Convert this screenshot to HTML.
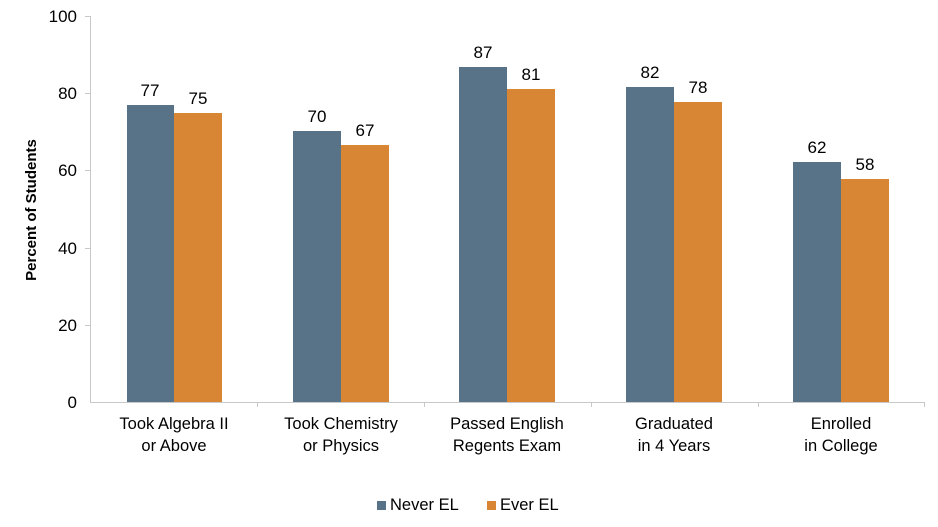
<!DOCTYPE html>
<html><head><style>body{margin:0;background:#fff}svg{display:block}</style></head><body>
<svg width="938" height="527" xmlns="http://www.w3.org/2000/svg" font-family="Liberation Sans, Arial, sans-serif">
<g stroke="#c8c8c8" stroke-width="1">
<line x1="90.5" y1="16" x2="90.5" y2="403"/>
<line x1="90" y1="402.5" x2="925" y2="402.5"/>
<line x1="85" y1="16.5" x2="90" y2="16.5"/><line x1="85" y1="93.5" x2="90" y2="93.5"/><line x1="85" y1="170.5" x2="90" y2="170.5"/><line x1="85" y1="248.5" x2="90" y2="248.5"/><line x1="85" y1="325.5" x2="90" y2="325.5"/>
<line x1="257.5" y1="402" x2="257.5" y2="407"/><line x1="424.5" y1="402" x2="424.5" y2="407"/><line x1="591.5" y1="402" x2="591.5" y2="407"/><line x1="758.5" y1="402" x2="758.5" y2="407"/><line x1="924.5" y1="402" x2="924.5" y2="407"/>
</g>
<g font-size="17" fill="#000" text-anchor="end">
<text x="77" y="22">100</text><text x="77" y="99">80</text><text x="77" y="176">60</text><text x="77" y="254">40</text><text x="77" y="331">20</text><text x="77" y="408">0</text>
</g>
<text transform="translate(36,210) rotate(-90)" text-anchor="middle" font-size="15" font-weight="bold">Percent of Students</text>
<g fill="#587387">
<rect x="127" y="105" width="47" height="297"/>
<rect x="293" y="131" width="48" height="271"/>
<rect x="459" y="67" width="48" height="335"/>
<rect x="626" y="87" width="48" height="315"/>
<rect x="793" y="162" width="48" height="240"/>
</g>
<g fill="#d98634">
<rect x="174" y="113" width="48" height="289"/>
<rect x="341" y="145" width="48" height="257"/>
<rect x="507" y="89" width="48" height="313"/>
<rect x="674" y="102" width="48" height="300"/>
<rect x="841" y="179" width="48" height="223"/>
</g>
<g font-size="17" text-anchor="middle">
<text x="150" y="96">77</text><text x="198" y="104">75</text>
<text x="317" y="122">70</text><text x="365" y="136">67</text>
<text x="483" y="58">87</text><text x="531" y="80">81</text>
<text x="650" y="78">82</text><text x="698" y="93">78</text>
<text x="817" y="153">62</text><text x="865" y="170">58</text>
</g>
<g font-size="16.5" text-anchor="middle">
<text x="174" y="429">Took Algebra II</text><text x="174" y="451">or Above</text>
<text x="341" y="429">Took Chemistry</text><text x="341" y="451">or Physics</text>
<text x="507" y="429">Passed English</text><text x="507" y="451">Regents Exam</text>
<text x="674" y="429">Graduated</text><text x="674" y="451">in 4 Years</text>
<text x="841" y="429">Enrolled</text><text x="841" y="451">in College</text>
</g>
<rect x="377" y="501" width="9" height="9" fill="#587387"/>
<text x="390" y="510" font-size="16.5">Never EL</text>
<rect x="487" y="501" width="9" height="9" fill="#d98634"/>
<text x="500" y="510" font-size="16.5">Ever EL</text>
</svg>
</body></html>
